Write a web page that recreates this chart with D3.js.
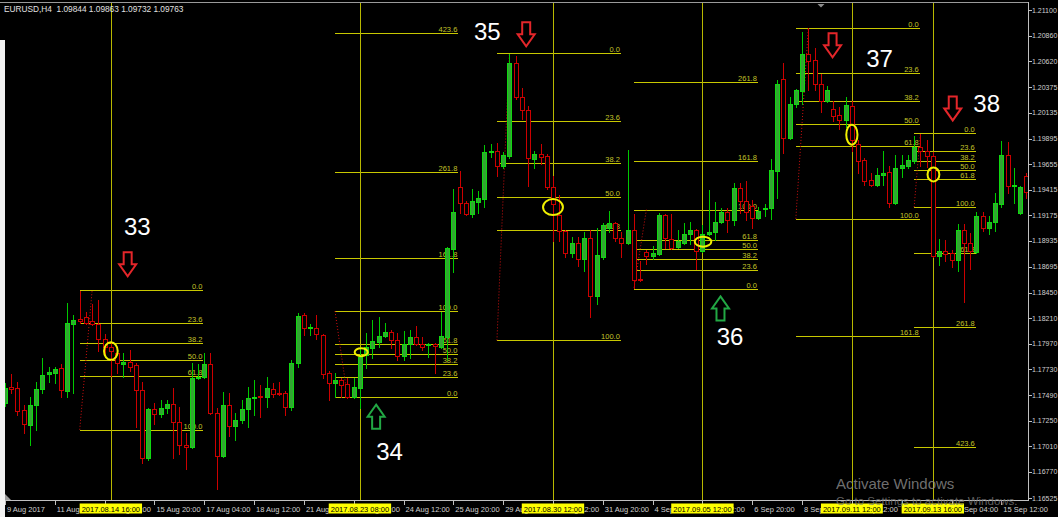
<!DOCTYPE html>
<html>
<head>
<meta charset="utf-8">
<script src="https://cdnjs.cloudflare.com/ajax/libs/d3/7.8.5/d3.min.js"></script>
<style>
  body { margin: 0; background: #000; overflow: hidden; }
  svg text { font-family: "Liberation Sans", Arial, sans-serif; }
</style>
</head>
<body>
<div id="chart"></div>
<script>
// EURUSD H4, one entry per bar, first bar = 9 Aug 2017 20:00
var barOpen = [1.1742,1.1757,1.1756,1.1735,1.1721,1.1740,1.1755,1.1769,1.1770,1.1774,
  1.1753,1.1816,1.1820,1.1822,1.1818,1.1816,1.1802,1.1794,1.1788,1.1778,
  1.1780,1.1777,1.1754,1.1690,1.1736,1.1731,1.1737,1.1741,1.1724,1.1702,
  1.1700,1.1765,1.1766,1.1778,1.1732,1.1692,1.1740,1.1720,1.1726,1.1736,
  1.1746,1.1748,1.1747,1.1755,1.1751,1.1751,1.1738,1.1779,1.1824,1.1812,
  1.1812,1.1805,1.1770,1.1760,1.1763,1.1759,1.1747,1.1756,1.1787,1.1793,
  1.1799,1.1804,1.1808,1.1801,1.1786,1.1797,1.1803,1.1797,1.1796,1.1797,
  1.1794,1.1803,1.1886,1.1944,1.1929,1.1919,1.1930,1.1933,1.1977,1.1978,
  1.1964,1.1973,1.2060,1.2028,1.2016,1.1970,1.1975,1.1973,1.1944,1.1918,
  1.1903,1.1882,1.1892,1.1877,1.1896,1.1842,1.1878,1.1906,1.1910,1.1896,
  1.1892,1.1904,1.1858,1.1883,1.1879,1.1881,1.1918,1.1895,1.1888,1.1892,
  1.1900,1.1904,1.1884,1.1900,1.1902,1.1911,1.1921,1.1913,1.1943,1.1931,
  1.1926,1.1915,1.1923,1.1924,1.1959,1.2045,1.1990,1.2022,1.2034,1.2069,
  1.2063,1.2041,1.2025,1.2017,1.2012,1.2007,1.2020,1.1984,1.1969,1.1951,
  1.1946,1.1955,1.1958,1.1929,1.1962,1.1964,1.1968,1.1982,1.1978,1.1973,
  1.1879,1.1884,1.1882,1.1876,1.1904,1.1892,1.1883,1.1917,1.1906,1.1911,
  1.1928,1.1974,1.1945,1.1920,1.1954];
var barHigh = [1.1760,1.1769,1.1761,1.1740,1.1747,1.1761,1.1784,1.1775,1.1775,1.1778,
  1.1835,1.1824,1.1847,1.1827,1.1834,1.1838,1.1806,1.1798,1.1791,1.1788,
  1.1791,1.1779,1.1761,1.1737,1.1742,1.1744,1.1744,1.1756,1.1738,1.1713,
  1.1779,1.1778,1.1788,1.1788,1.1737,1.1752,1.1751,1.1732,1.1744,1.1757,
  1.1763,1.1758,1.1766,1.1760,1.1761,1.1753,1.1782,1.1826,1.1826,1.1816,
  1.1824,1.1806,1.1772,1.1770,1.1765,1.1765,1.1765,1.1794,1.1807,1.1819,
  1.1822,1.1817,1.1810,1.1807,1.1809,1.1810,1.1814,1.1803,1.1798,1.1798,
  1.1827,1.1888,1.1942,1.1959,1.1931,1.1942,1.1940,1.1983,1.1984,1.1985,
  1.1977,1.2069,1.2067,1.2037,1.2020,1.1978,1.1984,1.1975,1.1954,1.1937,
  1.1904,1.1897,1.1897,1.1902,1.1904,1.1906,1.1910,1.1922,1.1911,1.1902,
  1.1979,1.1919,1.1875,1.1885,1.1889,1.1920,1.1919,1.1919,1.1904,1.1910,
  1.1911,1.1905,1.1908,1.1941,1.1930,1.1924,1.1924,1.1948,1.1948,1.1950,
  1.1932,1.1925,1.1928,1.1970,1.2044,1.2060,1.2028,1.2036,1.2089,1.2093,
  1.2074,1.2050,1.2039,1.2025,1.2019,1.2028,1.2025,1.1988,1.1971,1.1957,
  1.1962,1.1978,1.1964,1.1974,1.1974,1.1974,1.1992,1.1994,1.1988,1.1977,
  1.1895,1.1894,1.1885,1.1909,1.1909,1.1901,1.1921,1.1921,1.1917,1.1938,
  1.1987,1.1986,1.1962,1.1945,1.1957];
var barLow = [1.1739,1.1751,1.1730,1.1713,1.1702,1.1716,1.1751,1.1761,1.1760,1.1747,
  1.1747,1.1751,1.1817,1.1816,1.1815,1.1790,1.1786,1.1767,1.1770,1.1766,
  1.1772,1.1719,1.1685,1.1688,1.1722,1.1728,1.1732,1.1690,1.1694,1.1680,
  1.1699,1.1764,1.1765,1.1731,1.1661,1.1691,1.1711,1.1707,1.1723,1.1719,
  1.1730,1.1728,1.1738,1.1747,1.1749,1.1730,1.1735,1.1775,1.1805,1.1805,
  1.1802,1.1765,1.1744,1.1747,1.1747,1.1746,1.1746,1.1737,1.1774,1.1784,
  1.1794,1.1803,1.1793,1.1782,1.1782,1.1784,1.1796,1.1791,1.1785,1.1770,
  1.1793,1.1782,1.1864,1.1920,1.1918,1.1916,1.1920,1.1925,1.1972,1.1954,
  1.1962,1.1971,1.2027,1.2008,1.1945,1.1962,1.1966,1.1942,1.1893,1.1893,
  1.1878,1.1878,1.1870,1.1865,1.1822,1.1834,1.1877,1.1902,1.1893,1.1878,
  1.1891,1.1849,1.1856,1.1872,1.1877,1.1880,1.1887,1.1886,1.1887,1.1891,
  1.1891,1.1867,1.1883,1.1899,1.1894,1.1910,1.1902,1.1908,1.1920,1.1913,
  1.1906,1.1914,1.1917,1.1914,1.1934,1.1976,1.1989,1.2019,1.2022,1.2035,
  1.2035,1.2014,1.2024,1.2006,1.1998,1.2000,1.1978,1.1957,1.1946,1.1945,
  1.1945,1.1946,1.1925,1.1928,1.1953,1.1962,1.1967,1.1964,1.1963,1.1878,
  1.1871,1.1875,1.1869,1.1865,1.1836,1.1867,1.1882,1.1903,1.1900,1.1903,
  1.1925,1.1938,1.1929,1.1919,1.1934];
var barClose = [1.1756,1.1755,1.1734,1.1722,1.1740,1.1755,1.1768,1.1771,1.1773,1.1754,
  1.1817,1.1819,1.1818,1.1817,1.1816,1.1802,1.1794,1.1790,1.1779,1.1780,
  1.1775,1.1754,1.1690,1.1736,1.1731,1.1737,1.1741,1.1724,1.1702,1.1700,
  1.1765,1.1766,1.1778,1.1732,1.1692,1.1740,1.1720,1.1726,1.1736,1.1746,
  1.1747,1.1747,1.1756,1.1750,1.1750,1.1738,1.1779,1.1823,1.1812,1.1813,
  1.1806,1.1769,1.1760,1.1763,1.1758,1.1747,1.1757,1.1785,1.1794,1.1800,
  1.1804,1.1808,1.1801,1.1786,1.1797,1.1803,1.1797,1.1794,1.1797,1.1795,
  1.1804,1.1887,1.1921,1.1929,1.1919,1.1931,1.1934,1.1977,1.1978,1.1964,
  1.1974,1.2060,1.2028,1.2016,1.1971,1.1975,1.1972,1.1944,1.1928,1.1903,
  1.1882,1.1892,1.1877,1.1896,1.1842,1.1880,1.1908,1.1910,1.1896,1.1892,
  1.1904,1.1857,1.1857,1.1879,1.1882,1.1918,1.1896,1.1887,1.1893,1.1900,
  1.1904,1.1884,1.1900,1.1902,1.1911,1.1921,1.1913,1.1943,1.1931,1.1921,
  1.1915,1.1922,1.1924,1.1960,1.2041,1.1990,1.2022,1.2035,1.2069,1.2062,
  1.2041,1.2025,1.2035,1.2011,1.2007,1.2021,1.1988,1.1968,1.1950,1.1946,
  1.1955,1.1957,1.1929,1.1962,1.1965,1.1969,1.1982,1.1978,1.1973,1.1879,
  1.1884,1.1881,1.1876,1.1904,1.1892,1.1884,1.1917,1.1906,1.1911,1.1929,
  1.1974,1.1945,1.1946,1.1944,1.1939];

var priceTicks = [1.21100,1.20860,1.20620,1.20375,1.20135,1.19895,1.19655,1.19415,1.19175,1.18935,
  1.18695,1.18450,1.18210,1.17970,1.17730,1.17490,1.17250,1.17010,1.16770,1.16525];

var timeTickBars = [0,8,16,24,32,40,48,56,64,72,80,88,96,104,112,120,128,136,144,152,160];
var timeTickLabels = ["9 Aug 2017","11 Aug 04:00","14 Aug 12:00","15 Aug 20:00","17 Aug 04:00",
  "18 Aug 12:00","21 Aug 20:00","23 Aug 04:00","24 Aug 12:00","25 Aug 20:00","29 Aug 04:00",
  "30 Aug 12:00","31 Aug 20:00","4 Sep 04:00","5 Sep 12:00","6 Sep 20:00","8 Sep 04:00",
  "11 Sep 12:00","12 Sep 20:00","14 Sep 04:00","15 Sep 12:00"];

var header = "EURUSD,H4  1.09844 1.09863 1.09732 1.09763";

// vertical lines
var markerBars = [17, 57, 88, 112, 136, 149];
var markerLabels = ["2017.08.14 16:00","2017.08.23 08:00","2017.08.30 12:00",
  "2017.09.05 12:00","2017.09.11 12:00","2017.09.13 16:00"];

// fibonacci objects: 100% anchor, 0% anchor, bar where the levels stop
var fibLevels = [0, 23.6, 38.2, 50, 61.8, 100, 161.8, 261.8, 423.6];
var fibBar100 = [12, 53, 79, 103, 127, 146];
var fibPrice100 = [1.17165, 1.18277, 1.18003, 1.19228, 1.19143, 1.19252];
var fibBar0 = [14, 55, 81, 101, 129, 147];
var fibPrice0 = [1.18478, 1.17471, 1.20700, 1.18487, 1.20928, 1.19946];
var fibEndBar = [31.85, 72.8, 98.9, 120.9, 146.9, 155.9];

// ellipses drawn round the entry bar
var ringBar = [17, 57.2, 88, 112.1, 136, 149.1];
var ringHalfBars = [1.1, 1.05, 1.6, 1.33, 0.9, 0.95];
var ringTop = [1.17984, 1.17930, 1.19327, 1.18975, 1.20025, 1.19624];
var ringBottom = [1.17820, 1.17855, 1.19177, 1.18881, 1.19837, 1.19493];

// numbered setups with their arrows
var setupNames = ["33", "34", "35", "36", "37", "38"];
var setupDir = ["down", "up", "down", "up", "down", "down"];
var arrowBar = [19.7, 59.6, 83.7, 114.9, 132.9, 152.2];
var arrowPrice = [1.18828, 1.17400, 1.20984, 1.18415, 1.20881, 1.20290];
var nameBar = [19.1, 59.6, 75.3, 114.3, 138.3, 155.5];
var namePrice = [1.18987, 1.16878, 1.20815, 1.17956, 1.20562, 1.20140];

var CandleChart = function()
{
  this.WIDTH = 1058;
  this.HEIGHT = 517;
  this.BAR_STEP = 6.227;
  this.PLOT_TOP = 3;
  this.PLOT_BOTTOM = 500;
  this.PLOT_RIGHT = 1028;
  this.FIB_COLOR = "#c8c800";
  this.svg = null;

  this.x = d3.scaleLinear()
             .domain([0, barOpen.length - 1])
             .range([5, 5 + (barOpen.length - 1) * this.BAR_STEP]);
  this.y = d3.scaleLinear()
             .domain([priceTicks[priceTicks.length - 1], priceTicks[0]])
             .range([498, 10]);
};

CandleChart.prototype.px = function(v)
{
  return Math.round(v) + 0.5;
}

CandleChart.prototype.initializeSvg = function()
{
  this.svg = d3.select("#chart").append("svg")
                                .attr("width", this.WIDTH)
                                .attr("height", this.HEIGHT);
  this.svg.append("rect").attr("width", this.WIDTH).attr("height", this.HEIGHT).attr("fill", "#000");

  this.svg.append("clipPath").attr("id", "plotClip")
          .append("rect")
          .attr("x", 0).attr("y", this.PLOT_TOP)
          .attr("width", this.PLOT_RIGHT).attr("height", this.PLOT_BOTTOM - this.PLOT_TOP);

  this.plot = this.svg.append("g").attr("clip-path", "url(#plotClip)");
}

CandleChart.prototype.drawFibs = function()
{
  var self = this;
  var g = this.plot.append("g");

  d3.range(fibBar100.length).forEach(function(f) {
    var left = self.x(Math.min(fibBar100[f], fibBar0[f]));
    var right = self.x(fibEndBar[f]);
    var levels = fibLevels.map(function(l) {
      return { level: l, y: self.px(self.y(fibPrice0[f] + (fibPrice100[f] - fibPrice0[f]) * l / 100)) };
    }).filter(function(d) { return d.y > self.PLOT_TOP + 6 && d.y < self.PLOT_BOTTOM; });

    g.selectAll(null).data(levels).enter().append("line")
     .attr("x1", Math.round(left)).attr("x2", Math.round(right))
     .attr("y1", function(d) { return d.y; })
     .attr("y2", function(d) { return d.y; })
     .attr("stroke", self.FIB_COLOR)
     .attr("stroke-width", 1);

    g.selectAll(null).data(levels).enter().append("text")
     .attr("x", right - 1)
     .attr("y", function(d) { return d.y - 2; })
     .attr("text-anchor", "end")
     .attr("font-size", "7.5px")
     .attr("fill", "#c4c42a")
     .text(function(d) { return d.level.toFixed(1); });

    // trend line between the two anchors
    g.append("line")
     .attr("x1", self.x(fibBar100[f])).attr("y1", self.y(fibPrice100[f]))
     .attr("x2", self.x(fibBar0[f])).attr("y2", self.y(fibPrice0[f]))
     .attr("stroke", "#d01010")
     .attr("stroke-width", 1)
     .attr("stroke-dasharray", "1,2");
  });
}

CandleChart.prototype.drawMarkers = function()
{
  var self = this;
  this.plot.append("g").selectAll("line")
      .data(markerBars).enter().append("line")
      .attr("x1", function(b) { return self.px(self.x(b)); })
      .attr("x2", function(b) { return self.px(self.x(b)); })
      .attr("y1", this.PLOT_TOP)
      .attr("y2", this.PLOT_BOTTOM)
      .attr("stroke", "#b8b800")
      .attr("stroke-width", 1);
}

CandleChart.prototype.drawCandles = function()
{
  var self = this;
  var bars = d3.range(barOpen.length).map(function(i) {
    return { i: i, o: barOpen[i], h: barHigh[i], l: barLow[i], c: barClose[i], up: barClose[i] >= barOpen[i] };
  });

  var g = this.plot.append("g").attr("shape-rendering", "crispEdges");

  g.selectAll("line").data(bars).enter().append("line")
   .attr("x1", function(d) { return self.px(self.x(d.i)); })
   .attr("x2", function(d) { return self.px(self.x(d.i)); })
   .attr("y1", function(d) { return Math.round(self.y(d.h)); })
   .attr("y2", function(d) { return Math.round(self.y(d.l)) + 1; })
   .attr("stroke", function(d) { return d.up ? "#00c800" : "#cc0000"; });

  g.selectAll("rect").data(bars).enter().append("rect")
   .attr("x", function(d) { return Math.round(self.x(d.i)) - 1.5; })
   .attr("width", 4)
   .attr("y", function(d) { return self.px(self.y(Math.max(d.o, d.c))); })
   .attr("height", function(d) {
      return Math.max(0, Math.round(self.y(Math.min(d.o, d.c))) - Math.round(self.y(Math.max(d.o, d.c))));
   })
   .attr("fill", function(d) { return d.up ? "#32a532" : "#000"; })
   .attr("stroke", function(d) { return d.up ? "#10d810" : "#cc0000"; })
   .attr("stroke-width", 1);
}

CandleChart.prototype.drawRings = function()
{
  var self = this;
  this.plot.append("g").selectAll("ellipse")
      .data(d3.range(ringBar.length)).enter().append("ellipse")
      .attr("cx", function(k) { return self.x(ringBar[k]); })
      .attr("cy", function(k) { return self.y((ringTop[k] + ringBottom[k]) / 2); })
      .attr("rx", function(k) { return self.x(ringBar[k] + ringHalfBars[k]) - self.x(ringBar[k]); })
      .attr("ry", function(k) { return (self.y(ringBottom[k]) - self.y(ringTop[k])) / 2; })
      .attr("fill", "none")
      .attr("stroke", "#f0f000")
      .attr("stroke-width", 2);
}

CandleChart.prototype.drawSetups = function()
{
  var self = this;
  var downPath = "M-4,0 L4,0 L4,12 L8.5,12 L0,24 L-8.5,12 L-4,12 Z";
  var upPath = "M0,0 L8.5,12 L4,12 L4,24 L-4,24 L-4,12 L-8.5,12 Z";
  var g = this.svg.append("g");

  g.selectAll("path").data(d3.range(setupNames.length)).enter().append("path")
   .attr("d", function(k) { return setupDir[k] === "up" ? upPath : downPath; })
   .attr("transform", function(k) {
      return "translate(" + self.x(arrowBar[k]) + "," + self.y(arrowPrice[k]) + ")";
   })
   .attr("fill", "none")
   .attr("stroke", function(k) { return setupDir[k] === "up" ? "#22a844" : "#e4262a"; })
   .attr("stroke-width", 2)
   .attr("stroke-linejoin", "miter");

  g.selectAll("text").data(d3.range(setupNames.length)).enter().append("text")
   .attr("x", function(k) { return self.x(nameBar[k]); })
   .attr("y", function(k) { return self.y(namePrice[k]); })
   .attr("font-family", "'Open Sans', sans-serif")
   .attr("font-size", "24px")
   .attr("fill", "#fff")
   .text(function(k) { return setupNames[k]; });
}

CandleChart.prototype.drawAxes = function()
{
  var self = this;
  var axisColor = "#c0c0c0";
  var g = this.svg.append("g");

  g.append("line").attr("x1", 0).attr("x2", this.PLOT_RIGHT + 1)
   .attr("y1", 2.5).attr("y2", 2.5).attr("stroke", "#9a9a9a");
  g.append("line").attr("x1", this.PLOT_RIGHT + 0.5).attr("x2", this.PLOT_RIGHT + 0.5)
   .attr("y1", 2).attr("y2", this.PLOT_BOTTOM + 1).attr("stroke", axisColor);
  g.append("line").attr("x1", 0).attr("x2", this.PLOT_RIGHT + 1)
   .attr("y1", this.PLOT_BOTTOM + 0.5).attr("y2", this.PLOT_BOTTOM + 0.5).attr("stroke", axisColor);

  // price scale
  g.selectAll(".ptick").data(priceTicks).enter().append("line")
   .attr("x1", this.PLOT_RIGHT + 1).attr("x2", this.PLOT_RIGHT + 4)
   .attr("y1", function(p) { return self.px(self.y(p)); })
   .attr("y2", function(p) { return self.px(self.y(p)); })
   .attr("stroke", axisColor);
  g.selectAll(".plabel").data(priceTicks).enter().append("text")
   .attr("x", this.PLOT_RIGHT + 4)
   .attr("y", function(p) { return self.y(p) + 2.5; })
   .attr("font-size", "7px")
   .attr("fill", "#d0d0d0")
   .text(function(p) { return p.toFixed(5); });

  // time scale
  g.selectAll(".ttick").data(timeTickBars).enter().append("line")
   .attr("x1", function(b) { return self.px(self.x(b)); })
   .attr("x2", function(b) { return self.px(self.x(b)); })
   .attr("y1", this.PLOT_BOTTOM + 1).attr("y2", this.PLOT_BOTTOM + 5)
   .attr("stroke", axisColor);
  g.selectAll(".tlabel").data(d3.range(timeTickBars.length)).enter().append("text")
   .attr("x", function(k) { return self.x(timeTickBars[k]) + 2; })
   .attr("y", this.PLOT_BOTTOM + 12)
   .attr("font-size", "7.5px")
   .attr("fill", "#d0d0d0")
   .text(function(k) { return timeTickLabels[k]; });

  // highlighted dates of the vertical lines
  markerBars.forEach(function(b, k) {
    var cx = self.x(b);
    var t = g.append("text")
             .attr("x", cx).attr("y", self.PLOT_BOTTOM + 12)
             .attr("text-anchor", "middle")
             .attr("font-size", "7.5px")
             .attr("fill", "#000")
             .text(markerLabels[k]);
    var w = t.node().getComputedTextLength() + 4;
    g.insert("rect", function() { return t.node(); })
     .attr("x", cx - w / 2).attr("y", self.PLOT_BOTTOM + 3.5)
     .attr("width", w).attr("height", 10)
     .attr("fill", "#ffff00");
  });

  g.append("text")
   .attr("x", 4).attr("y", 12)
   .attr("font-size", "8.3px")
   .attr("fill", "#e0e0e0")
   .style("white-space", "pre")
   .text(header);

  g.append("path").attr("d", "M817.5,4 L824.5,4 L821,7.5 Z").attr("fill", "#8c8c8c");
  g.append("rect").attr("x", 0).attr("y", 40).attr("width", 5).attr("height", this.HEIGHT - 40).attr("fill", "#f2f2f2");
  g.append("path").attr("d", "M5,494 L5,500 L11,500 Z").attr("fill", "#9a9a9a");
}

CandleChart.prototype.drawWatermark = function()
{
  var g = this.svg.append("g").attr("font-family", "'Open Sans', sans-serif");
  g.append("text").attr("x", 836).attr("y", 489)
   .attr("font-size", "15px").attr("fill", "#8c8c8c").attr("fill-opacity", 0.8)
   .text("Activate Windows");
  g.append("text").attr("x", 836).attr("y", 505)
   .attr("font-size", "11.5px").attr("fill", "#7a7a7a").attr("fill-opacity", 0.8)
   .text("Go to Settings to activate Windows.");
}

var chart = new CandleChart();
chart.initializeSvg();
chart.drawFibs();
chart.drawMarkers();
chart.drawCandles();
chart.drawRings();
chart.drawSetups();
chart.drawAxes();
chart.drawWatermark();
</script>
</body>
</html>
